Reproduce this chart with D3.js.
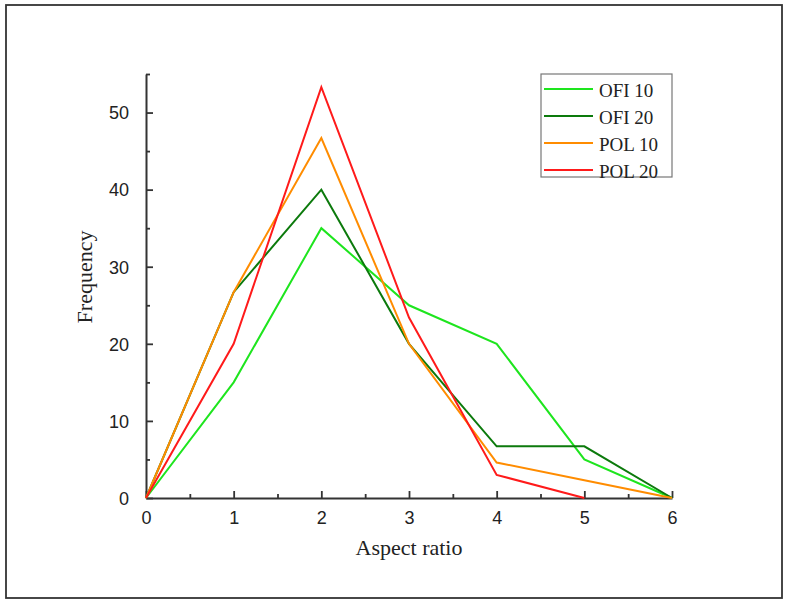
<!DOCTYPE html>
<html>
<head>
<meta charset="utf-8">
<script src="https://cdn.jsdelivr.net/npm/d3@7"></script>
<style>
  body { margin: 0; background: #fff; }
  svg { display: block; }
</style>
</head>
<body>
<div id="chart"></div>
<script>
const xValues = [0, 1, 2, 3, 4, 5, 6];
const seriesNames = ["OFI 10", "OFI 20", "POL 10", "POL 20"];
const ofi10 = [0, 15, 35, 25, 20, 5, 0];
const ofi20 = [0, 26.7, 40, 20, 6.7, 6.7, 0];
const pol10 = [0, 26.7, 46.7, 20, 4.6, 2.3, 0];
const pol20 = [0, 20, 53.3, 23.4, 3, 0];
const seriesColors = ["#1ee51e", "#0c7a0c", "#ff8c00", "#ff1a1a"];
const xTicks = [0, 1, 2, 3, 4, 5, 6];
const yTicks = [0, 10, 20, 30, 40, 50];

const width = 790, height = 606;
const margin = { top: 74, right: 118, bottom: 108, left: 146 };
const innerWidth = width - margin.left - margin.right;
const innerHeight = height - margin.top - margin.bottom;

const serif = "'Liberation Serif', 'Times New Roman', serif";
const sans = "'Liberation Sans', Arial, sans-serif";

const svg = d3.select("#chart").append("svg")
  .attr("width", width)
  .attr("height", height);

// outer frame
svg.append("rect")
  .attr("x", 6).attr("y", 5)
  .attr("width", 776).attr("height", 593)
  .attr("fill", "none")
  .attr("stroke", "#333")
  .attr("stroke-width", 1.8);

const g = svg.append("g").attr("transform", `translate(${margin.left},${margin.top})`);

const xScale = d3.scaleLinear().domain([0, 6]).range([0, innerWidth]);
const yScale = d3.scaleLinear().domain([0, 55]).range([innerHeight, 0]);

// Axes: ticks point inward
const axisColor = "#333";
const xAxis = g.append("g").attr("transform", `translate(0,${innerHeight})`)
  .call(d3.axisBottom(xScale).tickValues(xTicks).tickFormat(d3.format("d"))
    .tickSizeInner(-7).tickSizeOuter(0).tickPadding(13));
const xMinor = g.append("g").attr("transform", `translate(0,${innerHeight})`)
  .call(d3.axisBottom(xScale).tickValues(d3.range(0.5, 6, 1)).tickSize(-4));
const yAxis = g.append("g")
  .call(d3.axisLeft(yScale).tickValues(yTicks).tickSizeInner(-7).tickSizeOuter(0).tickPadding(17));
const yMinor = g.append("g")
  .call(d3.axisLeft(yScale).tickValues(d3.range(5, 56, 10)).tickSize(-4));

xMinor.selectAll("text").remove();
yMinor.selectAll("text").remove();
xMinor.select(".domain").remove();
yMinor.select(".domain").remove();

[xAxis, xMinor, yAxis, yMinor].forEach((a) => {
  a.attr("font-size", 18).attr("font-family", sans);
  a.select(".domain").attr("stroke", axisColor).attr("stroke-width", 2);
  a.selectAll(".tick line").attr("stroke", axisColor).attr("stroke-width", 1.8);
  a.selectAll("text").attr("fill", "#222");
});
yAxis.selectAll("text").attr("dy", "0.35em");

// Lines
const allSeries = [ofi10, ofi20, pol10, pol20];
const line = d3.line()
  .x((d, i) => xScale(xValues[i]))
  .y((d) => yScale(d));

allSeries.forEach((vals, k) => {
  g.append("path")
    .datum(vals)
    .attr("fill", "none")
    .attr("stroke", seriesColors[k])
    .attr("stroke-width", 2)
    .attr("stroke-linejoin", "miter")
    .attr("d", line);
});

// Axis titles
svg.append("text")
  .attr("x", margin.left + innerWidth / 2)
  .attr("y", 555)
  .attr("text-anchor", "middle")
  .attr("font-family", serif)
  .attr("font-size", 22)
  .attr("fill", "#222")
  .text("Aspect ratio");

svg.append("text")
  .attr("transform", "translate(92,277) rotate(-90)")
  .attr("text-anchor", "middle")
  .attr("font-family", serif)
  .attr("font-size", 22)
  .attr("fill", "#222")
  .text("Frequency");

// Legend
const legend = svg.append("g").attr("transform", "translate(541,74)");
legend.append("rect")
  .attr("width", 131).attr("height", 103)
  .attr("fill", "#fff")
  .attr("stroke", "#777")
  .attr("stroke-width", 1.2);

seriesNames.forEach((name, i) => {
  const row = legend.append("g").attr("transform", `translate(0,${15 + i * 27})`);
  row.append("line")
    .attr("x1", 3).attr("x2", 52)
    .attr("stroke", seriesColors[i])
    .attr("stroke-width", 2);
  row.append("text")
    .attr("x", 58).attr("y", 1)
    .attr("dy", "0.35em")
    .attr("font-family", serif)
    .attr("font-size", 19)
    .attr("fill", "#222")
    .text(name);
});
</script>
</body>
</html>
